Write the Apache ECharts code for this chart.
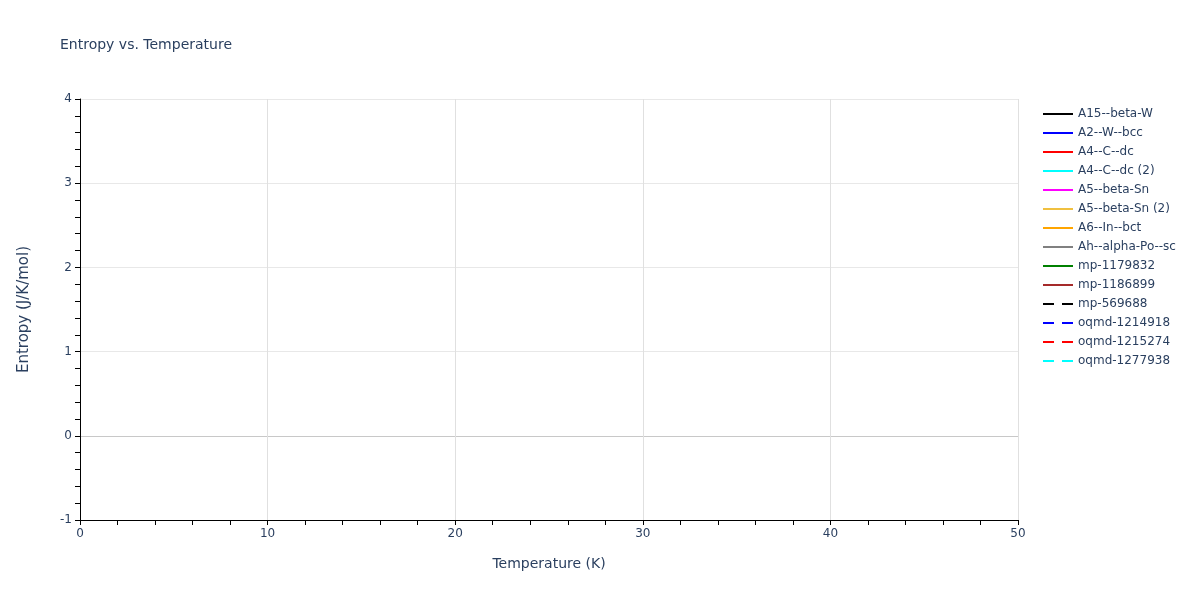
<!DOCTYPE html>
<html><head><meta charset="utf-8">
<script src="https://cdn.jsdelivr.net/npm/echarts@6/dist/echarts.min.js"></script>
<style>html,body{margin:0;padding:0;background:#fff}#c{width:1200px;height:600px}</style>
</head><body><div id="c"></div>
<script>
// Series names (no data points fall inside the visible 0-50 K window)
const seriesNames = ["A15--beta-W","A2--W--bcc","A4--C--dc","A4--C--dc (2)","A5--beta-Sn","A5--beta-Sn (2)","A6--In--bct","Ah--alpha-Po--sc","mp-1179832","mp-1186899","mp-569688","oqmd-1214918","oqmd-1215274","oqmd-1277938"];
const seriesColors = ["#000000","#0000ff","#ff0000","#00ffff","#ff00ff","#f0c040","#ffa500","#808080","#008000","#a52a2a","#000000","#0000ff","#ff0000","#00ffff"];
const seriesDash = [false,false,false,false,false,false,false,false,false,false,true,true,true,true];
// Each series is empty in the reference (no visible line)
const seriesData = seriesNames.map(() => []);
const xTicks = [0,10,20,30,40,50];
const yTicks = [-1,0,1,2,3,4];

const font = "'DejaVu Sans', Verdana, sans-serif";
const txt = "#2a3f5f";
const solidIcon = 'path://M0,0h30v2h-30z';
const dashIcon = 'path://M0,0h11v2h-11zM19,0h11v2h-11z';
const chart = echarts.init(document.getElementById('c'));
chart.setOption({
  animation: false,
  textStyle: {fontFamily: font},
  title: {text: "Entropy vs. Temperature", left: 55, top: 33,
    textStyle: {fontFamily: font, fontSize: 14, fontWeight: 'normal', color: txt}},
  legend: {orient: 'vertical', left: 1038, top: 102, itemWidth: 30, itemHeight: 2, itemGap: 5,
    textStyle: {fontFamily: font, fontSize: 12, color: txt, lineHeight: 14},
    data: seriesNames.map((n, i) => ({name: n, icon: seriesDash[i] ? dashIcon : solidIcon,
      itemStyle: {color: seriesColors[i], opacity: 1}}))},
  grid: {left: 80, right: 182, top: 99, bottom: 80, containLabel: false},
  xAxis: {type: 'value', min: xTicks[0], max: xTicks[xTicks.length-1], interval: 10,
    name: "Temperature (K)", nameLocation: 'middle', nameGap: 37,
    nameTextStyle: {fontFamily: font, fontSize: 14, color: txt},
    axisLine: {show: true, onZero: false, lineStyle: {color: '#000', width: 1}},
    axisTick: {show: true, length: 5, lineStyle: {color: '#000'}},
    minorTick: {show: true, splitNumber: 5, length: 5, lineStyle: {color: '#000'}},
    axisLabel: {fontFamily: font, fontSize: 12, color: txt, margin: 8},
    splitLine: {show: true, lineStyle: {color: '#e0e0e0', width: 1}}},
  yAxis: {type: 'value', min: yTicks[0], max: yTicks[yTicks.length-1], interval: 1,
    name: "Entropy (J/K/mol)", nameLocation: 'middle', nameGap: 48,
    nameTextStyle: {fontFamily: font, fontSize: 15, color: txt},
    axisLine: {show: true, onZero: false, lineStyle: {color: '#000', width: 1}},
    axisTick: {show: true, length: 5, lineStyle: {color: '#000'}},
    minorTick: {show: true, splitNumber: 5, length: 5, lineStyle: {color: '#000'}},
    axisLabel: {fontFamily: font, fontSize: 12, color: txt, margin: 8},
    splitLine: {show: true, lineStyle: {color: ['#e8e8e8','#c8c8c8','#e8e8e8','#e8e8e8','#e8e8e8','#e8e8e8'], width: 1}}},
  series: seriesNames.map((n, i) => ({
    name: n, type: 'line', data: seriesData[i], symbol: 'none', showSymbol: false,
    color: seriesColors[i],
    lineStyle: {color: seriesColors[i], width: 2, type: seriesDash[i] ? [6,6] : 'solid'}
  }))
});
</script></body></html>
